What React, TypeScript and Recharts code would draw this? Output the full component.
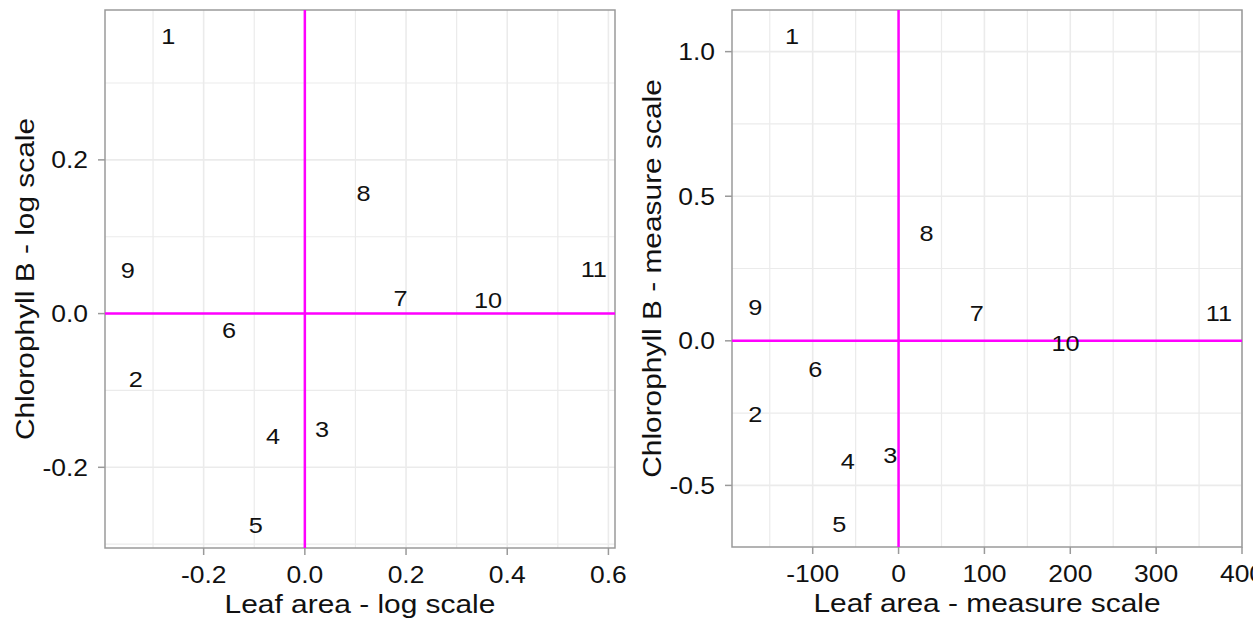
import React from 'react';
import {
  ScatterChart,
  Scatter,
  XAxis,
  YAxis,
  CartesianGrid,
  ReferenceLine,
  ReferenceArea
} from 'recharts';

// sample labels shown in both panels
const sampleIds = ['1', '2', '3', '4', '5', '6', '7', '8', '9', '10', '11'];

// left panel - log scale
const leafAreaLog = [-0.27, -0.334, 0.034, -0.063, -0.097, -0.15, 0.189, 0.116, -0.35, 0.362, 0.571];
const chlorophyllLog = [0.361, -0.085, -0.15, -0.159, -0.275, -0.022, 0.02, 0.157, 0.057, 0.018, 0.058];

// right panel - measure scale
const leafAreaMeasure = [-124, -167, -9.5, -59, -69, -97, 91, 32.5, -167, 194.5, 373];
const chlorophyllMeasure = [1.055, -0.255, -0.394, -0.415, -0.635, -0.099, 0.095, 0.373, 0.115, -0.009, 0.097];

const logXTicks = [-0.2, 0, 0.2, 0.4, 0.6];
const logXMinor = [-0.3, -0.1, 0.1, 0.3, 0.5];
const logYTicks = [-0.2, 0, 0.2];
const logYMinor = [-0.3, -0.1, 0.1, 0.3];

const measureXTicks = [-100, 0, 100, 200, 300, 400];
const measureXMinor = [-150, -50, 50, 150, 250, 350];
const measureYTicks = [-0.5, 0, 0.5, 1.0];
const measureYMinor = [-0.25, 0.25, 0.75];

const FONT = '"Liberation Sans", Arial, sans-serif';
const STRETCH = 1.15; // glyphs in the original are a bit wider than Arial
const INK = '#111';
const GRID = '#ebebeb';
const FRAME = '#9a9a9a';
const MAGENTA = '#ff00ff';

const XTick = ({ x, y, payload, fmt }: any) => (
  <text
    transform={`translate(${x},${y + 28}) scale(${STRETCH},1)`}
    textAnchor="middle"
    fontSize={23}
    fontFamily={FONT}
    fill={INK}
  >
    {fmt(payload.value)}
  </text>
);

const YTick = ({ x, y, payload, fmt }: any) => (
  <text
    transform={`translate(${x},${y + 8.3}) scale(${STRETCH},1)`}
    textAnchor="end"
    fontSize={23}
    fontFamily={FONT}
    fill={INK}
  >
    {fmt(payload.value)}
  </text>
);

const XTitle = ({ viewBox, text }: any) => {
  if (!viewBox) return null;
  const { x, y, width } = viewBox;
  return (
    <text
      transform={`translate(${x + width / 2},${y + 65}) scale(${STRETCH},1)`}
      textAnchor="middle"
      fontSize={26}
      fontFamily={FONT}
      fill={INK}
    >
      {text}
    </text>
  );
};

const YTitle = ({ viewBox, text }: any) => {
  if (!viewBox) return null;
  const { x, y, width, height } = viewBox;
  return (
    <text
      transform={`translate(${x + width - 71.5},${y + height / 2}) rotate(-90) scale(${STRETCH},1)`}
      textAnchor="middle"
      fontSize={26}
      fontFamily={FONT}
      fill={INK}
    >
      {text}
    </text>
  );
};

const PointLabel = (props: any) => {
  const { cx, cy, payload } = props;
  if (cx == null || cy == null) return null;
  return (
    <text
      transform={`translate(${cx},${cy}) scale(${STRETCH},1)`}
      dy="0.36em"
      textAnchor="middle"
      fontSize={22}
      fontFamily={FONT}
      fill={INK}
    >
      {payload.id}
    </text>
  );
};

interface PanelProps {
  xs: number[];
  ys: number[];
  xDomain: [number, number];
  yDomain: [number, number];
  xTicks: number[];
  yTicks: number[];
  xMinor: number[];
  yMinor: number[];
  fmtX: (v: number) => string;
  fmtY: (v: number) => string;
  xTitle: string;
  yTitle: string;
  width: number;
  yAxisWidth: number;
  xAxisHeight: number;
}

const Panel: React.FC<PanelProps> = ({
  xs, ys, xDomain, yDomain, xTicks, yTicks, xMinor, yMinor,
  fmtX, fmtY, xTitle, yTitle, width, yAxisWidth, xAxisHeight
}) => {
  const data = sampleIds.map((id, i) => ({ id, x: xs[i], y: ys[i] }));
  return (
    <ScatterChart width={width} height={618} margin={{ top: 10, right: 11, bottom: 0, left: 0 }}>
      <CartesianGrid stroke={GRID} strokeWidth={1.2} verticalValues={xMinor} horizontalValues={yMinor} />
      <CartesianGrid stroke={GRID} strokeWidth={1.6} verticalValues={xTicks} horizontalValues={yTicks} />
      <XAxis
        type="number"
        dataKey="x"
        domain={xDomain}
        ticks={xTicks}
        interval={0}
        allowDataOverflow
        height={xAxisHeight}
        axisLine={false}
        tickSize={7}
        tickMargin={0}
        tickLine={{ stroke: FRAME, strokeWidth: 1.5 }}
        tick={(p: any) => <XTick {...p} fmt={fmtX} />}
        label={<XTitle text={xTitle} />}
      />
      <YAxis
        type="number"
        dataKey="y"
        domain={yDomain}
        ticks={yTicks}
        interval={0}
        allowDataOverflow
        width={yAxisWidth}
        axisLine={false}
        tickSize={7}
        tickMargin={10}
        tickLine={{ stroke: FRAME, strokeWidth: 1.5 }}
        tick={(p: any) => <YTick {...p} fmt={fmtY} />}
        label={<YTitle text={yTitle} />}
      />
      <ReferenceArea
        x1={xDomain[0]}
        x2={xDomain[1]}
        y1={yDomain[0]}
        y2={yDomain[1]}
        fill="none"
        fillOpacity={0}
        stroke={FRAME}
        strokeWidth={1.5}
      />
      <ReferenceLine x={0} stroke={MAGENTA} strokeWidth={2.5} />
      <ReferenceLine y={0} stroke={MAGENTA} strokeWidth={2.5} />
      <Scatter data={data} shape={PointLabel} isAnimationActive={false} />
    </ScatterChart>
  );
};

export default function App() {
  return (
    <div
      style={{
        position: 'absolute',
        left: 0,
        top: 0,
        width: 1253,
        height: 618,
        overflow: 'hidden',
        background: '#fff',
        fontFamily: FONT
      }}
    >
      <div style={{ position: 'absolute', left: 0, top: 0 }}>
        <Panel
          xs={leafAreaLog}
          ys={chlorophyllLog}
          xDomain={[-0.395, 0.613]}
          yDomain={[-0.305, 0.395]}
          xTicks={logXTicks}
          yTicks={logYTicks}
          xMinor={logXMinor}
          yMinor={logYMinor}
          fmtX={(v) => v.toFixed(1)}
          fmtY={(v) => v.toFixed(1)}
          xTitle="Leaf area - log scale"
          yTitle="Chlorophyll B - log scale"
          width={626}
          yAxisWidth={105}
          xAxisHeight={70}
        />
      </div>
      <div style={{ position: 'absolute', left: 626, top: 0 }}>
        <Panel
          xs={leafAreaMeasure}
          ys={chlorophyllMeasure}
          xDomain={[-194, 400]}
          yDomain={[-0.713, 1.144]}
          xTicks={measureXTicks}
          yTicks={measureYTicks}
          xMinor={measureXMinor}
          yMinor={measureYMinor}
          fmtX={(v) => String(v)}
          fmtY={(v) => v.toFixed(1)}
          xTitle="Leaf area - measure scale"
          yTitle="Chlorophyll B - measure scale"
          width={627}
          yAxisWidth={106}
          xAxisHeight={71}
        />
      </div>
    </div>
  );
}
